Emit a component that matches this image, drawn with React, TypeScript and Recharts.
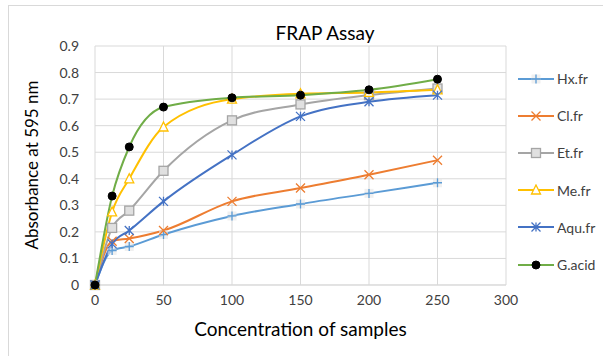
import { LineChart, Line, XAxis, YAxis, CartesianGrid } from 'recharts';

const concentrations = [0, 12.5, 25, 50, 100, 150, 200, 250];
const hxFr = [0, 0.13, 0.145, 0.19, 0.26, 0.305, 0.345, 0.385];
const clFr = [0, 0.165, 0.175, 0.205, 0.315, 0.365, 0.415, 0.47];
const etFr = [0, 0.215, 0.28, 0.43, 0.62, 0.68, 0.715, 0.74];
const meFr = [0, 0.275, 0.4, 0.595, 0.7, 0.72, 0.725, 0.735];
const aquFr = [0, 0.155, 0.205, 0.315, 0.49, 0.635, 0.69, 0.715];
const gAcid = [0, 0.335, 0.52, 0.67, 0.705, 0.715, 0.735, 0.775];
const xTicks = [0, 50, 100, 150, 200, 250, 300];
const yTicks = [0, 0.1, 0.2, 0.3, 0.4, 0.5, 0.6, 0.7, 0.8, 0.9];

const data = concentrations.map((c, i) => ({
  conc: c,
  hx: hxFr[i],
  cl: clFr[i],
  et: etFr[i],
  me: meFr[i],
  aqu: aquFr[i],
  ga: gAcid[i],
}));

type Shape = 'plus' | 'x' | 'square' | 'triangle' | 'star' | 'circle';

const series: { key: string; name: string; color: string; shape: Shape }[] = [
  { key: 'hx', name: 'Hx.fr', color: '#5b9bd5', shape: 'plus' },
  { key: 'cl', name: 'Cl.fr', color: '#ed7d31', shape: 'x' },
  { key: 'et', name: 'Et.fr', color: '#a5a5a5', shape: 'square' },
  { key: 'me', name: 'Me.fr', color: '#ffc000', shape: 'triangle' },
  { key: 'aqu', name: 'Aqu.fr', color: '#4472c4', shape: 'star' },
  { key: 'ga', name: 'G.acid', color: '#70ad47', shape: 'circle' },
];

function Marker({ cx, cy, shape, color }: { cx: number; cy: number; shape: Shape; color: string }) {
  const r = 4.5;
  switch (shape) {
    case 'plus':
      return (
        <g>
          <rect x={cx - r} y={cy - r} width={2 * r} height={2 * r} fill="#e6e6e6" opacity={0.6} />
          <path d={`M${cx - r},${cy}H${cx + r}M${cx},${cy - r}V${cy + r}`} stroke={color} strokeWidth={1.3} />
        </g>
      );
    case 'x':
      return <path d={`M${cx - r},${cy - r}L${cx + r},${cy + r}M${cx - r},${cy + r}L${cx + r},${cy - r}`} stroke={color} strokeWidth={1.3} fill="none" />;
    case 'square':
      return <rect x={cx - r} y={cy - r} width={2 * r} height={2 * r} fill="#e0e0e0" stroke={color} strokeWidth={1.3} />;
    case 'triangle':
      return <path d={`M${cx},${cy - r - 0.5}L${cx + r},${cy + r - 0.5}L${cx - r},${cy + r - 0.5}Z`} fill="#fff" stroke={color} strokeWidth={1.3} />;
    case 'star':
      return (
        <path
          d={`M${cx - r},${cy - r}L${cx + r},${cy + r}M${cx - r},${cy + r}L${cx + r},${cy - r}M${cx},${cy - r}V${cy + r}`}
          stroke={color}
          strokeWidth={1.3}
          fill="none"
        />
      );
    default:
      return <circle cx={cx} cy={cy} r={4} fill="#000" stroke="#000" />;
  }
}

function LegendBox() {
  return (
    <div style={{ position: 'absolute', left: 516, top: 60, fontFamily: 'Lato', fontSize: 14, color: '#404040' }}>
      {series.map((s) => (
        <div key={s.key} style={{ display: 'flex', alignItems: 'center', height: 37.2 }}>
          <svg width={40} height={12}>
            <line x1={2} y1={6} x2={38} y2={6} stroke={s.color} strokeWidth={2} />
            <Marker cx={20} cy={6} shape={s.shape} color={s.color} />
          </svg>
          <span style={{ marginLeft: 1 }}>{s.name}</span>
        </div>
      ))}
    </div>
  );
}

export default function App() {
  return (
    <div style={{ position: 'absolute', left: 0, top: 0, width: 603, height: 356, background: '#fff', overflow: 'hidden' }}>
      <div style={{ position: 'absolute', left: 8, top: 5, width: 620, height: 380, border: '1px solid #d9d9d9' }} />
      <LineChart
        width={603}
        height={356}
        data={data}
        margin={{ top: 46, right: 97, bottom: 41, left: 55 }}
        style={{ position: 'absolute', left: 0, top: 0 }}
      >
        <CartesianGrid stroke="#d9d9d9" strokeWidth={1} />
        <XAxis
          dataKey="conc"
          type="number"
          domain={[0, 300]}
          ticks={xTicks}
          tickLine={false}
          axisLine={{ stroke: '#d9d9d9' }}
          height={30}
          tick={{ fontSize: 14, fill: '#404040', fontFamily: 'Lato' }}
          tickMargin={4}
        />
        <YAxis
          type="number"
          domain={[0, 0.9]}
          ticks={yTicks}
          tickLine={false}
          axisLine={false}
          width={40}
          tick={{ fontSize: 14, fill: '#404040', fontFamily: 'Lato' }}
          tickFormatter={(v: number) => (v === 0 ? '0' : v.toFixed(1))}
          tickMargin={10}
        />
        {series.map((s) => (
          <Line
            key={s.key}
            type="monotone"
            dataKey={s.key}
            name={s.name}
            stroke={s.color}
            strokeWidth={2}
            isAnimationActive={false}
            dot={(p: any) => <Marker key={`${s.key}-${p.index}`} cx={p.cx} cy={p.cy} shape={s.shape} color={s.color} />}
            activeDot={false}
          />
        ))}
      </LineChart>
      <div style={{ position: 'absolute', left: 0, top: 21, width: 650, textAlign: 'center', fontFamily: 'Lato', fontSize: 19, color: '#000' }}>
        FRAP Assay
      </div>
      <div
        style={{
          position: 'absolute',
          left: 31,
          top: 165,
          transform: 'translate(-50%, -50%) rotate(-90deg)',
          whiteSpace: 'nowrap',
          fontFamily: 'Lato',
          fontSize: 17,
          color: '#000',
        }}
      >
        Absorbance at 595 nm
      </div>
      <div style={{ position: 'absolute', left: 95, top: 317, width: 411, textAlign: 'center', fontFamily: 'Lato', fontSize: 19, color: '#000' }}>
        Concentration of samples
      </div>
      <LegendBox />
    </div>
  );
}
